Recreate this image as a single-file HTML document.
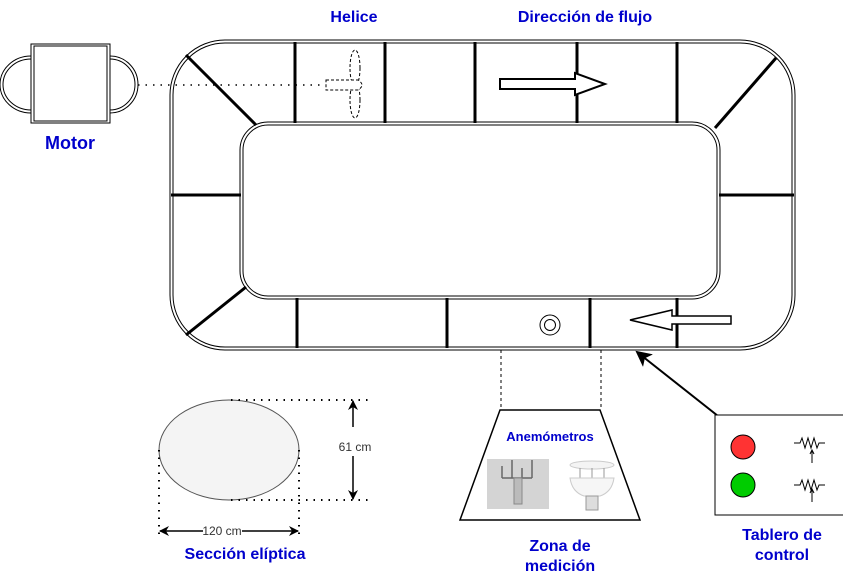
<!DOCTYPE html>
<html><head><meta charset="utf-8"><style>
html,body{margin:0;padding:0;background:#fff;}
svg{display:block;}
text{font-family:"Liberation Sans",sans-serif;}
.lbl{fill:#0000cc;font-weight:bold;font-size:16px;}
</style></head><body>
<svg width="843" height="576" viewBox="0 0 843 576" xmlns="http://www.w3.org/2000/svg">
<defs>
<marker id="ah" markerWidth="10" markerHeight="10" refX="9" refY="5" orient="auto" markerUnits="userSpaceOnUse"><path d="M0,0 L10,5 L0,10 L3,5z" fill="#000"/></marker>
<marker id="ahb" markerWidth="16" markerHeight="16" refX="14" refY="8" orient="auto" markerUnits="userSpaceOnUse"><path d="M0,0 L16,8 L0,16 L4,8z" fill="#000"/></marker>
</defs>
<g fill="none" stroke="#000">
<rect x="170" y="40" width="625" height="310" rx="55" stroke-width="1"/>
<rect x="173" y="43" width="619" height="304" rx="52" stroke-width="1"/>
</g>
<g fill="none" stroke="#000">
<rect x="240" y="122" width="480" height="177" rx="28" stroke-width="1"/>
<rect x="243" y="125" width="474" height="171" rx="25" stroke-width="1"/>
</g>
<g stroke="#000" stroke-width="3">
<line x1="295" y1="42" x2="295" y2="123"/><line x1="385" y1="42" x2="385" y2="123"/>
<line x1="475" y1="42" x2="475" y2="123"/><line x1="577" y1="42" x2="577" y2="123"/>
<line x1="677" y1="42" x2="677" y2="123"/>
<line x1="297" y1="298" x2="297" y2="348"/><line x1="447" y1="298" x2="447" y2="348"/>
<line x1="590" y1="298" x2="590" y2="348"/><line x1="677" y1="298" x2="677" y2="348"/>
<line x1="171" y1="195" x2="241" y2="195"/><line x1="719" y1="195" x2="794" y2="195"/>
<line x1="186" y1="55" x2="256" y2="125"/><line x1="776" y1="58" x2="715" y2="128"/>
<line x1="186" y1="335" x2="246" y2="287"/>
</g>
<g fill="none" stroke="#000">
<path d="M31,56 A31,28.5 0 0 0 31,113" /><path d="M31,59 A28,25.5 0 0 0 31,110"/>
<path d="M110,56 A28,28.5 0 0 1 110,113"/><path d="M110,59 A25,25.5 0 0 1 110,110"/>
<rect x="31" y="44" width="79" height="79" fill="#fff"/>
<rect x="34" y="46" width="73" height="75"/>
</g>
<line x1="138" y1="85" x2="325" y2="85" stroke="#000" stroke-width="1.5" stroke-dasharray="1.5,6"/>
<g fill="#fff" stroke="#000" stroke-dasharray="3,2" stroke-width="1">
<ellipse cx="355" cy="68" rx="5" ry="18"/><ellipse cx="355" cy="100" rx="5" ry="18"/>
<path d="M326,80 L358,80 Q366,85 358,90 L326,90 Z"/>
</g>
<path d="M500,79 L575,79 L575,73 L605,84 L575,95 L575,89 L500,89 Z" fill="#fff" stroke="#000" stroke-width="2"/>
<path d="M731,316 L672,316 L672,310 L630,320 L672,330 L672,324 L731,324 Z" fill="#fff" stroke="#000" stroke-width="1.5"/>
<g fill="none" stroke="#000"><circle cx="550" cy="325" r="10"/><circle cx="550" cy="325" r="5.5"/></g>
<g>
<line x1="501" y1="350" x2="501" y2="410" stroke="#000" stroke-dasharray="3,3"/>
<line x1="601" y1="350" x2="601" y2="410" stroke="#000" stroke-dasharray="3,3"/>
<path d="M500,410 L600,410 L640,520 L460,520 Z" fill="#fff" stroke="#000" stroke-width="1.5"/>
<text x="550" y="441" text-anchor="middle" class="lbl" style="font-size:13px">Anemómetros</text>
<g>
<rect x="487" y="459" width="62" height="50" fill="#d4d4d4"/>
<path d="M502,478 v-12 M512,478 v-18 M522,478 v-10 M532,478 v-18" stroke="#666" stroke-width="1.5" fill="none"/>
<path d="M502,478 L532,478" stroke="#666" stroke-width="1.5"/>
<rect x="514" y="478" width="8" height="26" fill="#bbb" stroke="#888"/>
</g>
<g>
<ellipse cx="592" cy="465" rx="22" ry="4" fill="#f4f4f4" stroke="#ccc"/>
<path d="M580,468 v10 M592,468 v10 M604,468 v10" stroke="#999"/>
<path d="M570,478 L614,478 Q612,492 600,496 L584,496 Q572,492 570,478Z" fill="#f6f6f6" stroke="#ccc"/>
<rect x="586" y="496" width="12" height="14" fill="#ddd" stroke="#999"/>
</g>
</g>
<line x1="718" y1="416" x2="637" y2="352" stroke="#000" stroke-width="2" marker-end="url(#ahb)"/>
<g>
<rect x="715" y="415" width="130" height="100" fill="#fff" stroke="#000"/>
<circle cx="743" cy="447" r="12" fill="#ff3333" stroke="#000"/>
<circle cx="743" cy="485" r="12" fill="#00cc00" stroke="#000"/>
<g fill="none" stroke="#000" stroke-width="1">
<path d="M794,443 h6 l2,-5 l3,10 l3,-10 l3,10 l3,-10 l3,10 l2,-5 h6"/><path d="M812,463 v-12 M810,454 l2,-4 l2,4"/>
<path d="M794,485 h6 l2,-5 l3,10 l3,-10 l3,10 l3,-10 l3,10 l2,-5 h6"/><path d="M812,502 v-12 M810,493 l2,-4 l2,4"/>
</g>
</g>
<g>
<ellipse cx="229" cy="450" rx="70" ry="50" fill="#f4f4f4" stroke="#555"/>
<g stroke="#000" stroke-width="2" stroke-dasharray="1.5,6">
<line x1="231" y1="400" x2="370" y2="400"/><line x1="231" y1="500" x2="370" y2="500"/>
<line x1="159" y1="450" x2="159" y2="540"/><line x1="299" y1="450" x2="299" y2="540"/>
</g>
<line x1="353" y1="427" x2="353" y2="401" stroke="#000" stroke-width="1.5" marker-end="url(#ah)"/>
<line x1="353" y1="456" x2="353" y2="499" stroke="#000" stroke-width="1.5" marker-end="url(#ah)"/>
<text x="355" y="451" text-anchor="middle" font-size="12" fill="#333">61 cm</text>
<line x1="203" y1="531" x2="160" y2="531" stroke="#000" stroke-width="1.5" marker-end="url(#ah)"/>
<line x1="242" y1="531" x2="298" y2="531" stroke="#000" stroke-width="1.5" marker-end="url(#ah)"/>
<text x="222" y="535" text-anchor="middle" font-size="12" fill="#333">120 cm</text>
</g>
<text x="354" y="22" text-anchor="middle" class="lbl">Helice</text>
<text x="585" y="22" text-anchor="middle" class="lbl">Dirección de flujo</text>
<text x="70" y="149" text-anchor="middle" class="lbl" style="font-size:18px">Motor</text>
<text x="245" y="559" text-anchor="middle" class="lbl">Sección elíptica</text>
<text text-anchor="middle" class="lbl"><tspan x="560" y="551">Zona de</tspan><tspan x="560" y="571">medición</tspan></text>
<text text-anchor="middle" class="lbl"><tspan x="782" y="540">Tablero de</tspan><tspan x="782" y="560">control</tspan></text>
</svg>
</body></html>
